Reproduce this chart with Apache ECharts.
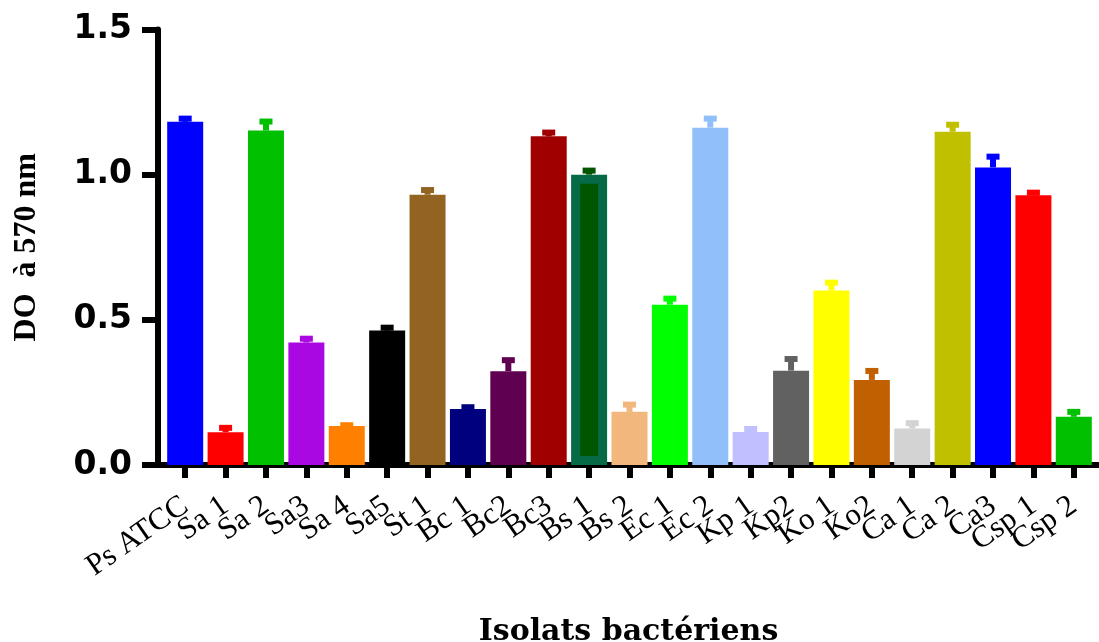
<!DOCTYPE html>
<html>
<head>
<meta charset="utf-8">
<script src="https://cdn.jsdelivr.net/npm/echarts@6/dist/echarts.min.js"></script>
<style>
  html, body { margin: 0; padding: 0; background: #fff; }
  #chart { width: 1099px; height: 642px; }
</style>
</head>
<body>
<div id="chart"></div>
<script>
// isolats et DO moyenne a 570 nm
var isolats = ['Ps ATCC', 'Sa 1', 'Sa 2', 'Sa3', 'Sa 4', 'Sa5', 'St 1', 'Bc 1', 'Bc2', 'Bc3', 'Bs 1', 'Bs 2',
  'Ec 1', 'Ec 2', 'Kp 1', 'Kp2', 'Ko 1', 'Ko2', 'Ca 1', 'Ca 2', 'Ca3', 'Csp 1', 'Csp 2'];
var moyennes = [1.182, 0.113, 1.152, 0.422, 0.134, 0.463, 0.931, 0.193, 0.323, 1.132, 1.0, 0.183,
  0.552, 1.162, 0.114, 0.325, 0.601, 0.293, 0.126, 1.148, 1.025, 0.929, 0.166];
var ecarts = [0.011, 0.015, 0.031, 0.013, 0.003, 0.010, 0.016, 0.006, 0.038, 0.013, 0.014, 0.025,
  0.021, 0.031, 0.010, 0.040, 0.027, 0.031, 0.018, 0.024, 0.037, 0.009, 0.017];
var couleurs = ['#0000ff', '#ff0000', '#00c000', '#aa08e3', '#ff8000', '#000000', '#936321', '#00007e',
  '#600050', '#a00000', '#005500', '#f2b77d', '#00ff00', '#91bff9', '#c0c0ff', '#616161',
  '#ffff00', '#c06000', '#d3d3d3', '#c0c000', '#0000ff', '#ff0000', '#00c000'];
var yTicks = [0, 0.5, 1.0, 1.5];

var chart = echarts.init(document.getElementById('chart'));

var barData = moyennes.map(function (v, i) {
  var item = { value: v, itemStyle: { color: couleurs[i] } };
  if (isolats[i] === 'Bs 1') {
    // barre Bs 1 avec bord vert
    item.itemStyle.borderColor = '#066a46';
    item.itemStyle.borderWidth = 9;
  }
  return item;
});

var errData = moyennes.map(function (v, i) {
  return [i, v, ecarts[i]];
});

var option = {
  animation: false,
  grid: [
    { left: 158, right: 0, top: 29.5, bottom: 177, containLabel: false, outerBoundsMode: 'none' },
    { left: 165, right: 5, top: 29.5, bottom: 177, containLabel: false, outerBoundsMode: 'none' }
  ],
  xAxis: [
    {
      gridIndex: 0, type: 'value', min: 0, max: 1,
      axisLine: { show: true, lineStyle: { color: '#000', width: 6 } },
      axisTick: { show: false }, axisLabel: { show: false }, splitLine: { show: false },
      name: 'Isolats bactériens',
      nameLocation: 'middle',
      nameGap: 152,
      nameTextStyle: { fontFamily: 'DejaVu Serif', fontWeight: 'bold', fontSize: 30, color: '#000' }
    },
    {
      gridIndex: 1, type: 'category', data: isolats,
      axisLine: { show: false },
      axisTick: { show: true, alignWithLabel: true, length: 13, lineStyle: { color: '#000', width: 6 } },
      axisLabel: {
        rotate: 35, margin: 38, interval: 0,
        fontFamily: 'Liberation Serif', fontSize: 31, color: '#000'
      }
    }
  ],
  yAxis: [
    {
      gridIndex: 0, type: 'value', min: 0, max: 1.5, interval: 0.5,
      axisLine: { show: true, lineStyle: { color: '#000', width: 6 } },
      axisTick: { show: true, length: 16, lineStyle: { color: '#000', width: 6 } },
      axisLabel: {
        margin: 26, fontFamily: 'DejaVu Sans', fontWeight: 'bold', fontSize: 33, color: '#000',
        formatter: function (v) { return v.toFixed(1); }
      },
      splitLine: { show: false },
      name: 'DO  à 570 nm',
      nameLocation: 'middle',
      nameGap: 115,
      nameTextStyle: { fontFamily: 'Liberation Serif', fontWeight: 'bold', fontSize: 32, color: '#000' }
    },
    {
      gridIndex: 1, type: 'value', min: 0, max: 1.5, interval: 0.5, show: false
    }
  ],
  series: [
    {
      type: 'bar', xAxisIndex: 1, yAxisIndex: 1,
      barWidth: 36,
      data: barData
    },
    {
      type: 'custom', xAxisIndex: 1, yAxisIndex: 1,
      z: 5,
      clip: false,
      data: errData,
      encode: { x: 0, y: [1, 2] },
      renderItem: function (params, api) {
        var i = api.value(0);
        var m = api.value(1);
        var sd = api.value(2);
        var bas = api.coord([i, m]);
        var haut = api.coord([i, m + sd]);
        var c = couleurs[i];
        return {
          type: 'group',
          children: [
            {
              type: 'rect',
              shape: { x: bas[0] - 3, y: haut[1], width: 6, height: bas[1] - haut[1] },
              style: { fill: c }
            },
            {
              type: 'rect',
              shape: { x: haut[0] - 6.5, y: haut[1] - 3, width: 13, height: 6 },
              style: { fill: c }
            }
          ]
        };
      }
    }
  ]
};
chart.setOption(option);
</script>
</body>
</html>
